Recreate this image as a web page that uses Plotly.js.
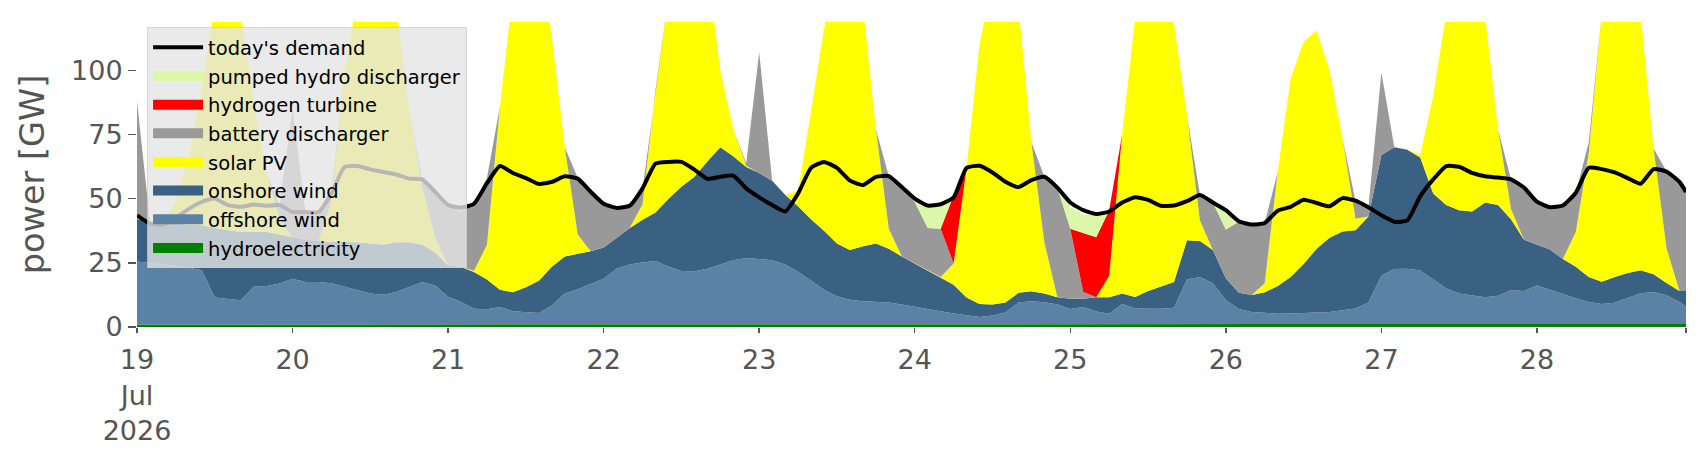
<!DOCTYPE html>
<html>
<head>
<meta charset="utf-8">
<script src="https://cdn.plot.ly/plotly-3.0.1.min.js"></script>
<style>
  html, body { margin: 0; padding: 0; background: #fff; }
  #chart { width: 1706px; height: 460px; }
</style>
</head>
<body>
<div id="chart"></div>
<script>
// Zeitachse: alle 2 Stunden ab 19.07.2026 00:00, letzter Punkt 28.07. 23:00
const hours = [];
for (let h = 0; h <= 238; h += 2) hours.push(h);
hours.push(239);

// Werte in GW (je Zeile 24 h)
const hydro = [
  1.0, 1.0, 1.0, 1.0, 1.1, 1.1, 1.2, 1.2, 1.1, 1.1, 1.0, 1.0,
  1.0, 1.0, 1.0, 1.1, 1.1, 1.0, 1.0, 1.0, 1.0, 1.0, 1.0, 1.0,
  1.0, 1.0, 1.0, 1.0, 1.0, 1.0, 1.0, 1.0, 1.0, 1.0, 1.0, 1.0,
  1.0, 1.0, 1.0, 1.0, 1.1, 1.2, 1.1, 1.0, 1.0, 1.0, 1.0, 1.0,
  1.0, 1.0, 1.0, 1.0, 1.0, 1.0, 1.0, 1.0, 1.0, 1.0, 1.0, 1.0,
  1.0, 1.0, 1.0, 1.0, 1.0, 1.0, 1.0, 1.0, 1.0, 1.0, 1.0, 1.0,
  1.0, 1.0, 1.0, 1.0, 1.0, 1.0, 1.0, 1.0, 1.0, 1.0, 1.0, 1.0,
  1.0, 1.0, 1.0, 1.0, 1.0, 1.0, 1.0, 1.0, 1.0, 1.0, 1.0, 1.0,
  1.0, 1.0, 1.0, 1.0, 1.0, 1.0, 1.0, 1.0, 1.0, 1.0, 1.0, 1.0,
  1.0, 1.0, 1.0, 1.0, 1.0, 1.0, 1.0, 1.0, 1.0, 1.0, 1.1, 1.2,
  1.2
];
const offshore = [
  24.5, 24, 23.3, 22.8, 22, 21, 10.3, 9.8, 9.3, 14.6, 15, 15.9,
  17.8, 16.5, 16.5, 15.9, 14.6, 13.3, 12, 11.6, 12.6, 14.6, 16.5, 15.2,
  10.8, 8.7, 6.1, 5.9, 6.8, 5.1, 4.8, 4.5, 7.4, 12, 13.7, 15.9,
  17.8, 21.7, 23.3, 24.1, 24.6, 22.4, 20.7, 20.7, 21.7, 23.3, 25, 25.9,
  25.5, 25, 23.3, 20.5, 17, 13.5, 11, 9.6, 9, 8.7, 8.5, 7.8,
  6.9, 6.1, 5, 4.3, 3.6, 2.9, 3.5, 4.6, 8.5, 9, 8.6, 7.8,
  6, 6.8, 5, 4.2, 8, 6.2, 6.1, 6.1, 6.5, 17.5, 18.5, 16,
  9.5, 6, 4.8, 4.4, 4.2, 4.3, 4.5, 4.6, 4.8, 5.5, 6.2, 8.5,
  19, 21.6, 21.7, 21, 17.6, 14, 12, 11.2, 10.6, 11.2, 13.3, 13,
  15.2, 13.5, 11.7, 10.2, 8.7, 8, 8.4, 10.2, 12.1, 12.6, 11.3, 8.5,
  6.8
];
const onshore = [
  16.5, 16, 16.2, 16.4, 17, 17.5, 27.2, 26.7, 26.7, 21.4, 21, 19.1,
  16.2, 16.5, 16, 16.1, 17.4, 18.7, 19.5, 19.4, 19.4, 17.4, 14.5, 12.8,
  12.2, 13.7, 14.3, 11.6, 6.7, 7.4, 9.7, 12.5, 15.1, 14.5, 13.8, 12.6,
  12.2, 12.1, 14.2, 16.7, 18.9, 26.4, 32.8, 36.8, 41.8, 45.7, 40.5, 35.4,
  33.5, 31, 27.2, 25.5, 24, 23, 20.5, 19.4, 21.5, 22.8, 21, 18.7,
  16.9, 14.9, 13.5, 11.2, 6.9, 5.1, 4.3, 3.9, 3.8, 3.9, 3.4, 2.8,
  4, 3.2, 5.6, 6.4, 4, 4.5, 6.9, 8.7, 10, 15.3, 14, 13,
  8.5, 6.3, 6.7, 8.1, 10.8, 14.2, 19, 24.9, 29, 30.7, 30.5, 33.5,
  47, 47.4, 46.3, 44, 33.4, 32.5, 32.5, 32.8, 36.9, 35.3, 27.7, 20,
  15.8, 15.7, 13.8, 12.3, 9.8, 8.6, 10.1, 9.8, 9, 6.9, 4.7, 4.3,
  6
];
const solar = [
  0, 0, 0, 8.8, 26, 53.5, 86.5, 102.5, 85, 51, 23, 6,
  0, 0, 0, 15.7, 66, 95, 112.5, 113, 92, 52, 23, 6,
  0, 0, 0.5, 13.5, 71.5, 116.5, 134.5, 130, 89.5, 42.5, 7.5, 0,
  0, 0, 0, 6, 47.5, 78.2, 93.5, 91.5, 75.5, 30, 10.5, 0.5,
  0, 0, 0, 6, 42, 78.5, 107.5, 115, 93.5, 44.5, 7.8, 0,
  0, 0, 0, 8.2, 50.5, 101, 126.2, 130.5, 111.7, 58.1, 20, 0,
  0, 0, 0, 8.4, 62, 108.3, 121, 119.2, 100.5, 48.7, 8, 0,
  0, 0, 0, 3.5, 44.4, 77.3, 86.5, 85, 65.2, 36.2, 4.5, 0,
  0, 0, 0, 1, 38, 74.5, 94.5, 95, 72.5, 29.5, 4, 0,
  0, 0, 0, 13.5, 48.5, 104.4, 120.5, 119, 99.9, 49, 13.5, 0,
  0
];
const battery = [
  46, 0, 0, 0, 0, 0, 0, 0, 0, 0, 0, 5.5,
  50, 10.8, 11.3, 3.3, 0, 0, 0, 0, 0, 0, 2.5, 17.6,
  23.5, 21.6, 26.1, 26, 0, 0, 0, 0, 0, 0, 22, 23.5,
  17, 11.6, 8.7, 6, 0, 0, 0, 0, 0, 0, 0, 1,
  47, 0, 0, 0, 0, 0, 0, 0, 0, 0, 20.5, 27,
  23.9, 16.6, 18.8, 0, 0, 0, 0, 0, 0, 0, 25.5, 42.7,
  27.3, 2.6, 0, 0, 0, 0, 0, 0, 0, 0, 10, 18.5,
  19, 27.7, 27.5, 23.5, 0, 0, 0, 0, 0, 0, 7, 3.6,
  32, 0, 0, 0, 0, 0, 0, 0, 0, 0, 11.5, 20.3,
  16.8, 16.5, 20.8, 15.3, 4, 0, 0, 0, 0, 0, 30, 42.7,
  38.8
];
const hydrogen = [
  0, 0, 0, 0, 0, 0, 0, 0, 0, 0, 0, 0,
  0, 0, 0, 0, 0, 0, 0, 0, 0, 0, 0, 0,
  0, 0, 0, 0, 0, 0, 0, 0, 0, 0, 0, 0,
  0, 0, 0, 0, 0, 0, 0, 0, 0, 0, 0, 0,
  0, 0, 0, 0, 0, 0, 0, 0, 0, 0, 0, 0,
  0, 0, 0, 26.6, 0, 0, 0, 0, 0, 0, 0, 0,
  0, 23, 23.4, 25.5, 0, 0, 0, 0, 0, 0, 0, 0,
  0, 0, 0, 0, 0, 0, 0, 0, 0, 0, 0, 0,
  0, 0, 0, 0, 0, 0, 0, 0, 0, 0, 0, 0,
  0, 0, 0, 0, 0, 0, 0, 0, 0, 0, 0, 0,
  0
];
const pumpedHydro = [
  0, 0, 0, 0, 0, 0, 0, 0, 0, 0, 0, 0,
  0, 0, 0, 0, 0, 0, 0, 0, 0, 0, 0, 0,
  0, 2, 0, 0, 0, 0, 0, 0, 0, 0, 0, 0,
  0, 0, 0, 0, 0, 0, 0, 0, 0, 0, 0, 0,
  0, 0, 0, 0, 0, 0, 0, 0, 0, 0, 0, 0,
  1.3, 8.2, 9.1, 0, 0, 0, 0, 0, 0, 0, 0, 0,
  8.5, 7.2, 8.5, 0, 0, 0, 0, 0, 0, 0, 0, 0,
  7, 0, 0, 0, 0, 0, 0, 0, 0, 0, 0, 0,
  0, 0, 0, 0, 0, 0, 0, 0, 0, 0, 0, 0,
  0, 0, 0, 0, 0, 0, 0, 0, 0, 0, 0, 0,
  0
];
const demand = [
  43.5, 40.3, 39.8, 42.5, 46, 48.7, 50, 47.5, 46.8, 47.7, 47.2, 47.5,
  44.8, 44.8, 44.8, 52, 62.3, 62.7, 61.4, 60.4, 59.4, 57.8, 57.5, 52.6,
  47.5, 46.5, 48, 56, 62.7, 60, 58, 55.7, 56.5, 58.7, 57.8, 52.7,
  48, 46.4, 47.2, 54, 63.6, 64.3, 64.3, 61.3, 57.7, 58.5, 59, 54,
  50.5, 47.5, 45, 52, 62, 64.3, 62, 57, 55.3, 58.5, 58.8, 54.5,
  50, 47.3, 47.8, 50.5, 62, 62.8, 60.2, 56.6, 54.5, 57.2, 58.5, 54.3,
  48.5, 45.5, 44, 45, 48.5, 50.5, 49.5, 47.2, 47.3, 49, 51.4, 48.5,
  45.5, 41.2, 39.9, 40.5, 45.3, 46.8, 49.6, 48.3, 47, 50.2, 49.2, 46.6,
  43.5, 41, 41.5, 51, 57.5, 62.7, 62.4, 60, 58.7, 58.2, 57.5, 54.3,
  48.8, 46.7, 47.3, 52.3, 62, 61.5, 60.2, 58, 55.8, 61.5, 60.5, 56.5,
  52.6
];

const dayTicks = [19, 20, 21, 22, 23, 24, 25, 26, 27, 28];
const dayLabels = ['19<br>Jul<br>2026', '20', '21', '22', '23', '24', '25', '26', '27', '28'];

// Stunde ab Start -> Datumsstring
function stamp(h) {
  return new Date(Date.UTC(2026, 6, 19) + h * 3600e3).toISOString().slice(0, 16).replace('T', ' ');
}
const times = hours.map(stamp);

const fontFamily = '"DejaVu Sans", sans-serif';

// Stapelfläche ohne eigenen Legendeneintrag
function area(name, y, color) {
  return {
    x: times, y,
    name,
    type: 'scatter',
    mode: 'lines',
    stackgroup: 'supply',
    line: { width: 0, color },
    fillcolor: color,
    showlegend: false,
    hoverinfo: 'skip'
  };
}

// Legendeneintrag als breiter Farbbalken
function swatch(name, color, rank) {
  return {
    x: [times[0]], y: [null],
    name,
    type: 'scatter',
    mode: 'lines',
    line: { width: 10, color },
    legendgroup: name,
    legendrank: rank,
    hoverinfo: 'skip'
  };
}

const series = [
  ['hydroelectricity', hydro, '#008000'],
  ['offshore wind', offshore, '#5b82a5'],
  ['onshore wind', onshore, '#3b6182'],
  ['solar PV', solar, '#ffff00'],
  ['battery discharger', battery, '#999999'],
  ['hydrogen turbine', hydrogen, '#ff0000'],
  ['pumped hydro discharger', pumpedHydro, '#dbf7a9']
];

const traces = series.map(([n, y, c]) => area(n, y, c));
series.forEach(([n, , c], i) => traces.push(swatch(n, c, 9 - i)));
traces.push({
  x: times, y: demand,
  name: "today's demand",
  type: 'scatter',
  mode: 'lines',
  line: { color: '#000000', width: 4, shape: 'spline', smoothing: 0.5 },
  legendgroup: 'demand',
  legendrank: 1,
  hoverinfo: 'skip'
});

const endStamp = stamp(239);

const layout = {
  width: 1706,
  height: 460,
  margin: { l: 137, r: 20, t: 22, b: 133 },
  paper_bgcolor: '#ffffff',
  plot_bgcolor: '#ffffff',
  font: { family: fontFamily, color: '#555555' },
  showlegend: true,
  legend: {
    x: 0.0065, y: 0.983,
    xanchor: 'left', yanchor: 'top',
    traceorder: 'grouped',
    tracegroupgap: 0.3,
    bgcolor: 'rgba(229,229,229,0.8)',
    bordercolor: 'rgba(204,204,204,0.8)',
    borderwidth: 1,
    font: { family: fontFamily, size: 19.5, color: '#000000' },
    itemwidth: 50
  },
  xaxis: {
    type: 'date',
    range: [stamp(0), endStamp],
    tickvals: dayTicks.map(d => `2026-07-${d} 00:00`).concat([endStamp]),
    ticktext: dayLabels.concat(['']),
    ticks: 'outside',
    ticklen: 5,
    tickwidth: 1.5,
    tickcolor: '#555555',
    ticklabelstandoff: 4,
    tickfont: { family: fontFamily, size: 27, color: '#555555' },
    showgrid: false,
    zeroline: false,
    showline: false
  },
  yaxis: {
    range: [0, 118.8],
    tickvals: [0, 25, 50, 75, 100],
    ticks: 'outside',
    ticklen: 8,
    tickwidth: 1.5,
    tickcolor: '#555555',
    ticklabelstandoff: 0,
    tickfont: { family: fontFamily, size: 27, color: '#555555' },
    showgrid: false,
    zeroline: false,
    showline: false,
    title: { text: 'power [GW]', font: { family: fontFamily, size: 33.5, color: '#555555' }, standoff: 16 }
  }
};

Plotly.newPlot('chart', traces, layout, { displayModeBar: false, staticPlot: true });
</script>
</body>
</html>
